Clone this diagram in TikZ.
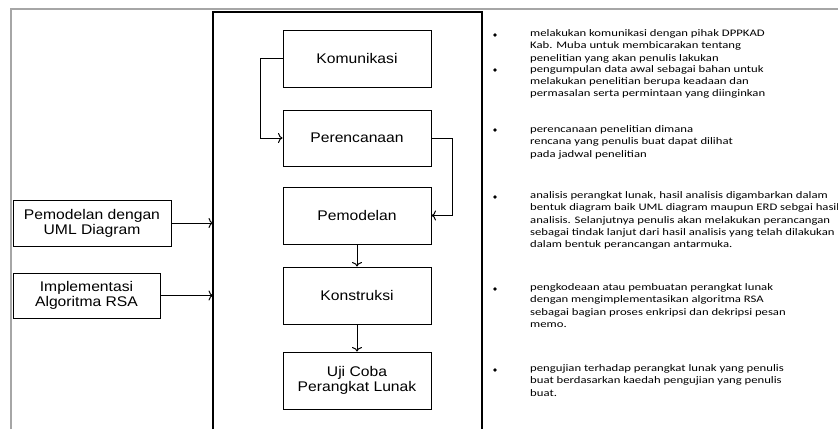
\documentclass[tikz,border=0pt]{standalone}
\usepackage{fontspec}
\usetikzlibrary{arrows.meta}
\setmainfont{Liberation Sans}
\newfontfamily\boxfont[FakeStretch=1.12]{Liberation Sans}
\newfontfamily\notefont[FakeStretch=1.27]{Carlito}

\tikzset{
  stage/.style={draw, line width=1pt, minimum width=148pt, minimum height=57pt,
    inner sep=0pt, align=center, font=\boxfont\fontsize{14}{15}\selectfont},
  note/.style={anchor=north west, inner sep=0pt, align=left,
    font=\notefont\fontsize{10}{12.3}\selectfont},
  dot/.style={circle, fill, inner sep=0pt, minimum size=3.8pt},
  flow/.style={-{To[length=4.5pt,width=10pt]}, line width=1pt},
}

\begin{document}
\begin{tikzpicture}[x=1pt,y=-1pt]
\useasboundingbox (0,0) rectangle (838,429);

% Frames
\draw[gray!70, line width=1.5pt] (11,429) -- (11,9) -- (838,9);
\draw[line width=1.3pt] (213,429) -- (213,12) -- (482,12) -- (482,429);
\coordinate (umlin) at (213,223);
\coordinate (rsain) at (213,295.5);

% Stages
\node[stage] (kom) at (357,58.5) {Komunikasi};
\node[stage, minimum height=56pt] (per) at (357,138) {Perencanaan};
\node[stage] (pem) at (357,215.5) {Pemodelan};
\node[stage] (kon) at (357,295.5) {Konstruksi};
\node[stage] (uji) at (357,380.5) {Uji Coba\\Perangkat Lunak};

% Inputs
\node[stage, minimum width=158pt, minimum height=46pt] (uml) at (92,223) {Pemodelan dengan\\UML Diagram};
\node[stage, minimum width=147pt, minimum height=45pt] (rsa) at (86.5,295.5) {Implementasi\\Algoritma RSA};

% Flow
\draw[flow] (kom.west) -- ++(-22,0) |- (per.west);
\draw[flow] (per.east) -- ++(21,0) |- (pem.east);
\draw[flow] (pem) -- (kon);
\draw[flow] (kon) -- (uji);
\draw[flow] (uml) -- (umlin);
\draw[flow] (rsa) -- (rsain);

% Notes
\node[dot] (b1) at (495,35) {};
\node[note] (n1) at (530,29.5) {melakukan komunikasi dengan pihak DPPKAD\\Kab. Muba untuk membicarakan tentang\\penelitian yang akan penulis lakukan};
\node[dot] (b2) at (495,70) {};
\node[note] (n2) at (530,65) {pengumpulan data awal sebagai bahan untuk\\melakukan penelitian berupa keadaan dan\\permasalan serta permintaan yang diinginkan};
\node[dot] (b3) at (495,130) {};
\node[note] (n3) at (530,125.5) {perencanaan penelitian dimana\\rencana yang penulis buat dapat dilihat\\pada jadwal penelitian};
\node[dot] (b4) at (495,197) {};
\node[note] (n4) at (530,191.5) {analisis perangkat lunak, hasil analisis digambarkan dalam\\bentuk diagram baik UML diagram maupun ERD sebgai hasil\\analisis. Selanjutnya penulis akan melakukan perancangan\\sebagai tindak lanjut dari hasil analisis yang telah dilakukan\\dalam bentuk perancangan antarmuka.};
\node[dot] (b5) at (495,289) {};
\node[note] (n5) at (530,283.5) {pengkodeaan atau pembuatan perangkat lunak\\dengan mengimplementasikan algoritma RSA\\sebagai bagian proses enkripsi dan dekripsi pesan\\memo.};
\node[dot] (b6) at (495,370) {};
\node[note] (n6) at (530,364.5) {pengujian terhadap perangkat lunak yang penulis\\buat berdasarkan kaedah pengujian yang penulis\\buat.};

\end{tikzpicture}
\end{document}
